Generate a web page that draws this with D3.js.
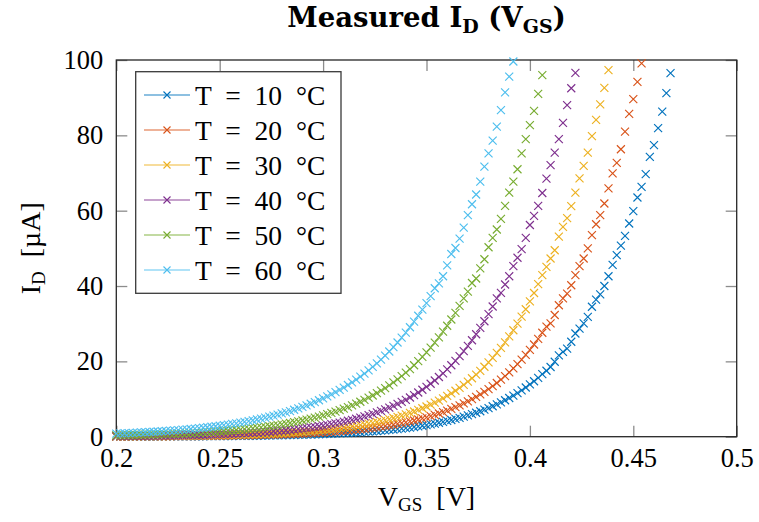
<!DOCTYPE html>
<html><head><meta charset="utf-8">
<script src="https://cdn.jsdelivr.net/npm/d3@7"></script>
<style>
body{margin:0;background:#fff}
svg{display:block}
text{font-family:"Liberation Serif","DejaVu Serif",serif;fill:#000}
</style>
</head><body>
<svg id="c" width="759" height="522"></svg>
<script>
// Gate-source voltage grid (V)
const vgs = [
0.200,0.202,0.204,0.206,0.208,0.210,0.212,0.214,0.216,0.218,
0.220,0.222,0.224,0.226,0.228,0.230,0.232,0.234,0.236,0.238,
0.240,0.242,0.244,0.246,0.248,0.250,0.252,0.254,0.256,0.258,
0.260,0.262,0.264,0.266,0.268,0.270,0.272,0.274,0.276,0.278,
0.280,0.282,0.284,0.286,0.288,0.290,0.292,0.294,0.296,0.298,
0.300,0.302,0.304,0.306,0.308,0.310,0.312,0.314,0.316,0.318,
0.320,0.322,0.324,0.326,0.328,0.330,0.332,0.334,0.336,0.338,
0.340,0.342,0.344,0.346,0.348,0.350,0.352,0.354,0.356,0.358,
0.360,0.362,0.364,0.366,0.368,0.370,0.372,0.374,0.376,0.378,
0.380,0.382,0.384,0.386,0.388,0.390,0.392,0.394,0.396,0.398,
0.400,0.402,0.404,0.406,0.408,0.410,0.412,0.414,0.416,0.418,
0.420,0.422,0.424,0.426,0.428,0.430,0.432,0.434,0.436,0.438,
0.440,0.442,0.444,0.446,0.448,0.450,0.452,0.454,0.456,0.458,
0.460,0.462,0.464,0.466,0.468];

// Drain current (uA), one array per temperature, starting at VGS = 0.200
const id10 = [
0.03,0.04,0.04,0.04,0.04,0.05,0.05,0.05,0.06,0.06,
0.06,0.07,0.07,0.08,0.08,0.08,0.09,0.10,0.10,0.11,
0.11,0.12,0.13,0.14,0.15,0.15,0.16,0.17,0.18,0.20,
0.21,0.22,0.23,0.25,0.26,0.28,0.30,0.32,0.34,0.36,
0.38,0.40,0.43,0.45,0.48,0.51,0.54,0.58,0.61,0.65,
0.69,0.73,0.78,0.83,0.88,0.93,0.99,1.05,1.12,1.18,
1.26,1.34,1.42,1.51,1.60,1.70,1.80,1.91,2.03,2.16,
2.29,2.43,2.58,2.74,2.91,3.09,3.29,3.49,3.70,3.93,
4.18,4.43,4.71,5.00,5.31,5.64,5.99,6.36,6.75,7.17,
7.61,8.08,8.58,9.11,9.67,10.27,10.91,11.58,12.30,13.06,
13.87,14.72,15.63,
16.6,17.5,18.5,19.9,21.6,22.5,23.4,25.2,27.4,28.7,
30.1,31.8,34.5,36.4,37.8,40.0,42.6,45.6,48.2,50.7,
53.3,56.6,59.9,63.5,66.3,69.7,74.3,77.4,81.9,86.3,
91.2,96.5];
const id20 = [
0.06,0.06,0.06,0.07,0.07,0.08,0.08,0.09,0.09,0.10,
0.10,0.11,0.12,0.12,0.13,0.14,0.15,0.16,0.17,0.18,
0.19,0.20,0.21,0.23,0.24,0.26,0.27,0.29,0.31,0.33,
0.35,0.37,0.39,0.41,0.44,0.47,0.50,0.53,0.56,0.59,
0.63,0.67,0.71,0.75,0.80,0.85,0.90,0.96,1.02,1.08,
1.15,1.22,1.29,1.37,1.46,1.55,1.65,1.75,1.86,1.97,
2.09,2.22,2.36,2.50,2.66,2.82,3.00,3.18,3.38,3.59,
3.81,4.05,4.30,4.56,4.84,5.14,5.46,5.80,6.16,6.54,
6.94,7.37,7.83,8.31,8.83,9.37,9.95,10.57,11.22,11.92,
12.65,13.43,14.26,15.15,16.08,17.08,18.13,19.26,20.45,21.71,
23.05,24.48,25.99,
27.6,29.2,30.1,32.3,34.9,36.7,38.0,40.2,42.9,45.3,
47.3,50.0,53.5,56.4,58.8,61.9,65.9,69.9,72.7,76.3,
81.0,85.7,89.6,94.2,99.1];
const id30 = [
0.09,0.09,0.10,0.11,0.11,0.12,0.13,0.14,0.14,0.15,
0.16,0.17,0.18,0.19,0.21,0.22,0.23,0.25,0.26,0.28,
0.30,0.31,0.33,0.35,0.38,0.40,0.42,0.45,0.48,0.51,
0.54,0.57,0.61,0.64,0.68,0.73,0.77,0.82,0.87,0.92,
0.98,1.04,1.11,1.17,1.25,1.32,1.41,1.49,1.59,1.68,
1.79,1.90,2.02,2.14,2.27,2.41,2.56,2.72,2.89,3.07,
3.26,3.46,3.67,3.90,4.14,4.40,4.67,4.96,5.27,5.59,
5.94,6.30,6.69,7.11,7.55,8.01,8.51,9.04,9.60,10.19,
10.82,11.49,12.20,12.95,13.75,14.60,15.51,16.47,17.48,18.57,
19.71,20.93,22.23,23.60,25.06,26.61,28.26,30.00,31.86,33.83,
35.92,38.14,
40.5,42.9,45.1,47.3,49.5,53.1,55.7,58.0,61.2,64.8,
68.6,71.9,75.4,79.8,84.1,88.2,92.6,97.3];
const id40 = [
0.15,0.16,0.17,0.18,0.19,0.20,0.21,0.22,0.24,0.25,
0.27,0.28,0.30,0.32,0.34,0.36,0.38,0.41,0.43,0.46,
0.49,0.52,0.55,0.58,0.62,0.66,0.70,0.74,0.79,0.84,
0.89,0.94,1.00,1.06,1.13,1.20,1.27,1.35,1.44,1.53,
1.62,1.72,1.83,1.94,2.06,2.19,2.32,2.47,2.62,2.78,
2.95,3.14,3.33,3.54,3.75,3.99,4.23,4.49,4.77,5.07,
5.38,5.71,6.07,6.44,6.84,7.26,7.71,8.19,8.70,9.23,
9.80,10.41,11.05,11.74,12.46,13.23,14.05,14.92,15.84,16.82,
17.86,18.97,20.14,21.39,22.71,24.11,25.60,27.19,28.87,30.65,
32.55,34.56,
36.7,38.2,40.4,42.6,45.3,47.5,49.8,52.8,56.2,58.6,
61.3,64.7,68.5,72.1,75.4,79.0,83.3,88.0,92.5,96.6];
const id50 = [
0.36,0.38,0.40,0.43,0.45,0.48,0.50,0.53,0.56,0.59,
0.63,0.66,0.70,0.74,0.78,0.83,0.87,0.92,0.97,1.03,
1.09,1.15,1.21,1.28,1.35,1.43,1.51,1.60,1.69,1.78,
1.88,1.99,2.10,2.22,2.35,2.48,2.62,2.77,2.92,3.09,
3.26,3.45,3.64,3.85,4.07,4.30,4.54,4.80,5.07,5.35,
5.66,5.98,6.31,6.67,7.05,7.45,7.87,8.31,8.78,9.28,
9.80,10.36,10.94,11.56,12.22,12.91,13.64,14.41,15.22,16.08,
16.99,17.95,18.97,20.04,21.17,22.37,23.64,24.97,26.38,27.88,
29.45,31.12,32.88,34.74,
36.7,38.5,40.8,42.0,44.7,47.1,50.3,52.8,55.0,57.8,
61.3,64.8,67.7,71.0,75.2,79.0,82.7,86.5,91.0,96.0];
const id60 = [
0.83,0.88,0.92,0.97,1.02,1.07,1.13,1.18,1.24,1.31,
1.38,1.45,1.52,1.60,1.68,1.77,1.86,1.95,2.05,2.16,
2.27,2.38,2.51,2.64,2.77,2.91,3.06,3.22,3.38,3.56,
3.74,3.93,4.13,4.34,4.57,4.80,5.05,5.31,5.58,5.87,
6.17,6.48,6.81,7.16,7.53,7.92,8.32,8.75,9.20,9.67,
10.17,10.69,11.23,11.81,12.42,13.05,13.72,14.43,15.17,15.94,
16.76,17.62,18.52,19.47,20.47,21.52,22.62,23.78,25.00,26.28,
27.63,29.05,30.54,32.10,33.75,35.48,
37.3,39.4,40.7,42.6,45.5,48.5,50.1,52.6,55.5,58.8,
61.7,64.3,67.7,71.7,75.2,78.6,82.3,86.7,91.4,95.6,99.6];

const legendLabels = ["T = 10 °C","T = 20 °C","T = 30 °C","T = 40 °C","T = 50 °C","T = 60 °C"];
const colors = ["#0072BD","#D95319","#EDB120","#7E2F8E","#77AC30","#4DBEEE"];
const xTicks = [0.2,0.25,0.3,0.35,0.4,0.45,0.5];
const xTickLabels = ["0.2","0.25","0.3","0.35","0.4","0.45","0.5"];
const yTicks = [0,20,40,60,80,100];
const yTickLabels = ["0","20","40","60","80","100"];

const seriesData = [id10,id20,id30,id40,id50,id60];
const series = seriesData.map((vals,i)=>({
  label: legendLabels[i], color: colors[i],
  points: vals.map((v,j)=>({v: vgs[j], i: v}))
}));

const svg = d3.select("#c");
const x = d3.scaleLinear().domain([0.2,0.5]).range([116.3,736.7]);
const y = d3.scaleLinear().domain([0,100]).range([436.7,60]);
const TICK = 11, TICKCOL = "#8c8c8c";

function styleAxis(g){
  g.select(".domain").remove();
  g.attr("font-family",null).attr("font-size",null);
  g.selectAll("line").attr("stroke",TICKCOL).attr("stroke-width",1.3);
  g.selectAll("text").attr("font-size",26.5).attr("fill","#000");
}
svg.append("g").attr("transform",`translate(0,${y(0)})`)
  .call(d3.axisBottom(x).tickValues(xTicks).tickFormat((d,i)=>xTickLabels[i]).tickSize(-TICK).tickPadding(11))
  .call(styleAxis);
svg.append("g").attr("transform",`translate(0,${y(100)})`)
  .call(d3.axisTop(x).tickValues(xTicks).tickFormat("").tickSize(-TICK))
  .call(styleAxis);
svg.append("g").attr("transform",`translate(${x(0.2)},0)`)
  .call(d3.axisLeft(y).tickValues(yTicks).tickFormat((d,i)=>yTickLabels[i]).tickSize(-TICK).tickPadding(13))
  .call(styleAxis);
svg.append("g").attr("transform",`translate(${x(0.5)},0)`)
  .call(d3.axisRight(y).tickValues(yTicks).tickFormat("").tickSize(-TICK))
  .call(styleAxis);

// frame
svg.append("rect").attr("x",x(0.2)).attr("y",y(100))
  .attr("width",x(0.5)-x(0.2)).attr("height",y(0)-y(100))
  .attr("fill","none").attr("stroke","#262626").attr("stroke-width",1.3);

const cross = r => `M${-r},${-r}L${r},${r}M${-r},${r}L${r},${-r}`;

// markers
series.forEach(s=>{
  svg.append("g").selectAll("path").data(s.points).join("path")
    .attr("d",cross(4))
    .attr("transform",d=>`translate(${x(d.v)},${y(d.i)})`)
    .attr("fill","none").attr("stroke",s.color).attr("stroke-width",1.15);
});

// legend
const lg = svg.append("g");
lg.append("rect").attr("x",135.7).attr("y",71.7).attr("width",205.3).attr("height",221.6)
  .attr("fill","#fff").attr("stroke","#3a3a3a").attr("stroke-width",1.3);
series.forEach((s,k)=>{
  const cy = 95 + k*35;
  lg.append("line").attr("x1",144).attr("x2",190).attr("y1",cy).attr("y2",cy)
    .attr("stroke",s.color).attr("stroke-opacity",0.6).attr("stroke-width",1.6);
  lg.append("path").attr("d",cross(3.5)).attr("transform",`translate(167,${cy})`)
    .attr("fill","none").attr("stroke",s.color).attr("stroke-width",1.1);
  lg.append("text").attr("x",195).attr("y",cy).attr("dy","0.35em")
    .attr("font-size",27.5).attr("word-spacing",7).style("white-space","pre").text(s.label);
});

// title
const t = svg.append("text").attr("x",426.5).attr("y",27).attr("text-anchor","middle")
  .attr("font-size",27.5).attr("font-weight","bold").style("font-family","'DejaVu Serif',serif");
t.append("tspan").text("Measured I");
t.append("tspan").attr("font-size",19).attr("dy",6).text("D");
t.append("tspan").attr("dy",-6).text(" (V");
t.append("tspan").attr("font-size",19).attr("dy",6).text("GS");
t.append("tspan").attr("dy",-6).text(")");

// x label
const xl = svg.append("text").attr("x",426.5).attr("y",506).attr("text-anchor","middle").attr("font-size",28);
xl.append("tspan").text("V");
xl.append("tspan").attr("font-size",19).attr("dy",5).text("GS");
xl.append("tspan").attr("dy",-5).style("white-space","pre").text("  [V]");

// y label
const yl = svg.append("text").attr("transform","translate(40,248.3) rotate(-90)")
  .attr("text-anchor","middle").attr("font-size",28);
yl.append("tspan").text("I");
yl.append("tspan").attr("font-size",19).attr("dy",5).text("D");
yl.append("tspan").attr("dy",-5).style("white-space","pre").text("  [µA]");
</script>
</body></html>
